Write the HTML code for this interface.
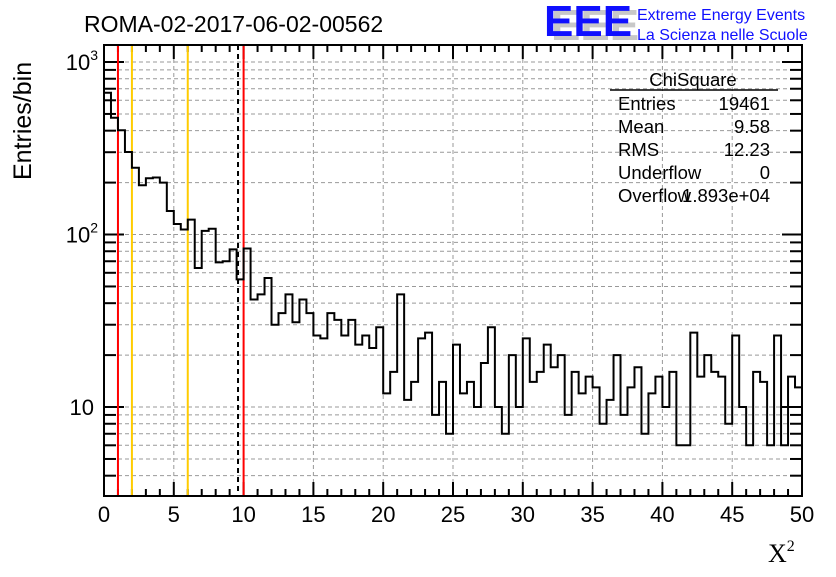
<!DOCTYPE html>
<html><head><meta charset="utf-8">
<style>
body{margin:0;background:#fff;width:836px;height:572px;overflow:hidden;font-family:"Liberation Sans",sans-serif;}
svg text{font-family:"Liberation Sans",sans-serif;}
</style></head>
<body>
<svg id="chart" width="836" height="572" xmlns="http://www.w3.org/2000/svg">
<text x="84" y="32" font-size="23">ROMA-02-2017-06-02-00562</text>
<g>
<text x="551" y="40" font-size="44" font-weight="bold" fill="#c8c8c8">EEE</text>
<text x="544" y="36" font-size="44" font-weight="bold" fill="#1010ff">EEE</text>
<text x="637" y="20" font-size="16" fill="#1010ff">Extreme Energy Events</text>
<text x="637" y="40" font-size="16" fill="#1010ff">La Scienza nelle Scuole</text>
</g>
<g id="grid"></g>
<g id="ticks"></g>
<g id="marks"></g>
<path id="hist" fill="none" stroke="#000" stroke-width="2"/>
<rect x="104" y="45" width="698" height="451" fill="none" stroke="#000" stroke-width="2"/>
<g id="labels" font-size="22"></g>
<text transform="translate(31,180) rotate(-90)" font-size="25">Entries/bin</text>
<text x="768" y="562" font-size="26" style="font-family:'Liberation Serif',serif">X<tspan font-size="16" dy="-11">2</tspan></text>
<g font-size="18.5">
<text x="693" y="86" text-anchor="middle">ChiSquare</text>
<line x1="610" y1="90" x2="778" y2="90" stroke="#000" stroke-width="1.5"/>
<text x="618" y="110">Entries</text><text x="770" y="110" text-anchor="end">19461</text>
<text x="618" y="133">Mean</text><text x="770" y="133" text-anchor="end">9.58</text>
<text x="618" y="156">RMS</text><text x="770" y="156" text-anchor="end">12.23</text>
<text x="618" y="179">Underflow</text><text x="770" y="179" text-anchor="end">0</text>
<text x="618" y="202">Overflow</text><text x="770" y="202" text-anchor="end">1.893e+04</text>
</g>
</svg>
<script>
const binLow = 0, binWidth = 0.5;
const counts = [664,475,402,301,244,193,212,214,200,137,115,107,122,64,105,108,69,70,82,55,
83,42,45,56,30,35,45,31,42,35,26,25,35,32,26,32,23,26,22,29,
12,16,45,11,14,25,27,9,14,7,23,12,14,10,18,29,10,7,20,10,
25,14,16,23,17,20,9,16,12,15,13,8,11,20,9,13,17,7,12,15,
10,16,6,6,27,15,20,16,15,8,26,10,6,16,14,6,26,6,15,13];
const xTicks = [0,5,10,15,20,25,30,35,40,45,50];
const yDecades = [1,2,3];
const markerLines = [{x:1,c:"#ff0000",d:""},{x:2,c:"#ffcc00",d:""},{x:6,c:"#ffcc00",d:""},{x:9.6,c:"#000",d:"5,4"},{x:10,c:"#ff0000",d:""}];
const NS="http://www.w3.org/2000/svg";
const L=104,R=802,T=45,B=496,xMin=0,xMax=50,logMin=Math.log10(3.05),logMax=Math.log10(1255);
function X(v){return L+(v-xMin)/(xMax-xMin)*(R-L);}
function Y(v){return B-(Math.log10(v)-logMin)/(logMax-logMin)*(B-T);}
function el(tag,attrs,parent){const e=document.createElementNS(NS,tag);for(const k in attrs)e.setAttribute(k,attrs[k]);parent.appendChild(e);return e;}
const grid=document.getElementById('grid'),ticks=document.getElementById('ticks'),labels=document.getElementById('labels'),marks=document.getElementById('marks');
xTicks.forEach(t=>{
  if(t>xMin&&t<xMax){const g=el('line',{x1:X(t),x2:X(t),y1:T,y2:B,stroke:'#999','stroke-dasharray':'4,3','stroke-width':1},grid);
  
  }
  const tx=el('text',{x:X(t),y:522,'text-anchor':'middle'},labels);tx.textContent=t;
  
  
});
for(let v=0;v<=50;v+=1){
  const h=(v%5===0)?14:7;
  const a=el('line',{x1:X(v),x2:X(v),y1:B,y2:B-h,stroke:'#000','stroke-width':2},ticks);
  
  
  const b=el('line',{x1:X(v),x2:X(v),y1:T,y2:T+h,stroke:'#000','stroke-width':2},ticks);
  
  
}
for(let d=0;d<=3;d++){for(let m=1;m<=9;m++){const v=m*Math.pow(10,d);const y=Y(v);if(y<T||y>B)continue;
  const g=el('line',{x1:L,x2:R,y1:y,y2:y,stroke:'#999','stroke-dasharray':'4,3','stroke-width':1},grid);
  
  
  const h=m===1?20:12;
  const a=el('line',{x1:L,x2:L+h,y1:y,y2:y,stroke:'#000','stroke-width':2},ticks);
  
  
  const b=el('line',{x1:R,x2:R-h,y1:y,y2:y,stroke:'#000','stroke-width':2},ticks);
  
  
}}
yDecades.forEach(d=>{
  const t=el('text',{x:d===1?94:98,y:Y(Math.pow(10,d))+8,'text-anchor':'end'},labels);
  
  
  t.textContent='10';
  if(d!==1){const s=el('tspan',{dy:-10,'font-size':14},t);s.textContent=String(d);}
});
markerLines.forEach(m=>{
  const l=el('line',{x1:X(m.x),x2:X(m.x),y1:T,y2:B,stroke:m.c,'stroke-width':2},marks);
  if(m.d)l.setAttribute('stroke-dasharray',m.d);
  
  
});
let d='';
counts.forEach((c,i)=>{const x0=X(binLow+i*binWidth),x1=X(binLow+(i+1)*binWidth),y=Y(c);
  d+=(i===0?'M'+x0+','+y:'L'+x0+','+y)+' L'+x1+','+y+' ';});
document.getElementById('hist').setAttribute('d',d);
</script>
</body></html>
